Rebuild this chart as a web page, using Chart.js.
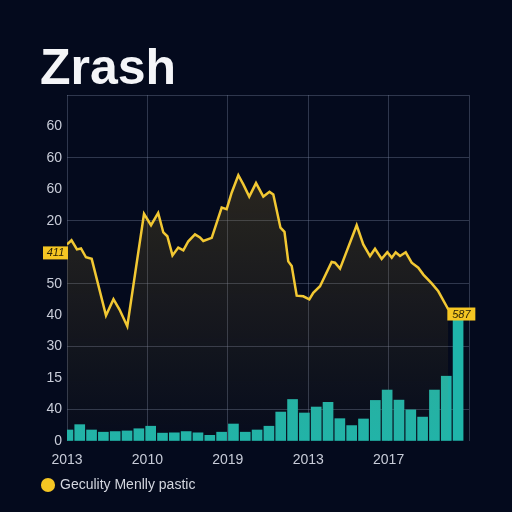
<!DOCTYPE html>
<html>
<head>
<meta charset="utf-8">
<script src="https://cdn.jsdelivr.net/npm/chart.js@4.4.1/dist/chart.umd.min.js"></script>
<style>
  html, body { margin: 0; padding: 0; background: #040a1d; }
  #wrap { width: 512px; height: 512px; }
</style>
</head>
<body>
<div id="wrap"><canvas id="zrashChart" width="512" height="512"></canvas></div>
<script>
// values
const xLabels = ['2013', '2010', '2019', '2013', '2017', ''];
const yLabels = ['0', '40', '15', '30', '40', '50', '', '20', '60', '60', '60', ''];

const barValues = [
  0.35, 0.52, 0.35, 0.28, 0.30, 0.32, 0.39, 0.47, 0.25, 0.26,
  0.30, 0.26, 0.18, 0.28, 0.54, 0.28, 0.35, 0.47, 0.92, 1.32,
  0.89, 1.08, 1.23, 0.71, 0.49, 0.70, 1.29, 1.62, 1.30, 0.99,
  0.76, 1.62, 2.06, 3.86
];

const lineX = [
  0, 0.056, 0.124, 0.174, 0.236, 0.307, 0.485, 0.578, 0.653, 0.75,
  0.958, 1.045, 1.134, 1.198, 1.248, 1.312, 1.384, 1.447, 1.509, 1.592,
  1.654, 1.695, 1.80, 1.924, 1.986, 2.049, 2.131, 2.193, 2.267, 2.351,
  2.442, 2.519, 2.566, 2.655, 2.705, 2.752, 2.795, 2.857, 2.939, 3.014,
  3.063, 3.147, 3.292, 3.333, 3.396, 3.603, 3.685, 3.769, 3.831, 3.914,
  3.984, 4.039, 4.088, 4.142, 4.213, 4.287, 4.369, 4.432, 4.536, 4.618,
  4.743
];
const lineY = [
  6.25, 6.38, 6.09, 6.12, 5.84, 5.79, 3.99, 4.51, 4.18, 3.65,
  7.22, 6.86, 7.25, 6.63, 6.51, 5.90, 6.15, 6.06, 6.35, 6.57,
  6.47, 6.36, 6.46, 7.42, 7.37, 7.90, 8.45, 8.16, 7.77, 8.20,
  7.77, 7.92, 7.84, 6.78, 6.65, 5.71, 5.56, 4.62, 4.60, 4.50,
  4.71, 4.92, 5.69, 5.67, 5.48, 6.86, 6.25, 5.88, 6.11, 5.79,
  6.00, 5.83, 6.00, 5.88, 6.00, 5.67, 5.51, 5.29, 5.01, 4.76,
  4.18
];

const tagLabels = ['411', '587'];
const legendLabel = 'Geculity Menlly pastic';

const gridColor = 'rgba(130, 140, 170, 0.35)';
const tickColor = '#c8ccd8';
const fontFamily = '"Liberation Sans", Arial, sans-serif';

// yellow value tags on the first and last point of the line
const tagPlugin = {
  id: 'tags',
  afterDatasetsDraw(chart) {
    const meta = chart.getDatasetMeta(1);
    const first = meta.data[0];
    const last = meta.data[meta.data.length - 1];
    const c = chart.ctx;
    c.save();
    c.font = 'italic 11px ' + fontFamily;
    c.textBaseline = 'middle';
    c.textAlign = 'center';
    const boxes = [
      { x: first.x - 24, y: first.y + 2, w: 25, h: 13, text: tagLabels[0] },
      { x: last.x - 1, y: last.y - 2, w: 28, h: 13, text: tagLabels[1] },
    ];
    boxes.forEach((b) => {
      c.fillStyle = '#f5c623';
      c.fillRect(b.x, b.y, b.w, b.h);
      c.fillStyle = '#2a2208';
      c.fillText(b.text, b.x + b.w / 2, b.y + b.h / 2 + 0.5);
    });
    c.restore();
  },
};

const ctx = document.getElementById('zrashChart').getContext('2d');

const zrashChart = new Chart(ctx, {
  type: 'bar',
  data: {
    labels: barValues.map((v, i) => String(i)),
    datasets: [
      {
        label: 'bars',
        data: barValues,
        backgroundColor: '#1fb4aa',
        borderWidth: 0,
        barThickness: 10,
        xAxisID: 'x',
        order: 2,
      },
      {
        type: 'line',
        label: legendLabel,
        data: lineX.map((x, i) => ({ x: x, y: lineY[i] })),
        xAxisID: 'x2',
        borderColor: '#f2c833',
        borderWidth: 2.5,
        tension: 0,
        pointRadius: 0,
        fill: 'start',
        backgroundColor: function (context) {
          const area = context.chart.chartArea;
          if (!area) return 'rgba(150, 120, 40, 0.15)';
          const g = context.chart.ctx.createLinearGradient(0, area.top, 0, area.bottom);
          g.addColorStop(0, 'rgba(160, 130, 40, 0.30)');
          g.addColorStop(1, 'rgba(160, 130, 40, 0.02)');
          return g;
        },
        order: 1,
      },
    ],
  },
  options: {
    responsive: false,
    animation: false,
    layout: { padding: { left: 40, right: 43, top: 0, bottom: 10 } },
    plugins: {
      title: {
        display: true,
        text: 'Zrash',
        align: 'start',
        color: '#f4f5f8',
        font: { family: fontFamily, size: 50, weight: 'bold', lineHeight: 1 },
        padding: { top: 45, bottom: 0 },
      },
      legend: {
        position: 'bottom',
        align: 'start',
        labels: {
          usePointStyle: true,
          boxWidth: 10,
          boxHeight: 10,
          padding: 3,
          color: '#d3d6df',
          font: { family: fontFamily, size: 14 },
          generateLabels: (chart) => [{
            text: legendLabel,
            fillStyle: '#f5c623',
            strokeStyle: '#f5c623',
            lineWidth: 0,
            pointStyle: 'circle',
            datasetIndex: 1,
            fontColor: '#d3d6df',
          }],
        },
      },
      tooltip: { enabled: false },
    },
    scales: {
      x: {
        display: false,
        offset: true,
      },
      x2: {
        type: 'linear',
        position: 'bottom',
        min: 0,
        max: 5,
        offset: false,
        afterFit: (scale) => { scale.height = 34; },
        ticks: {
          stepSize: 1,
          color: tickColor,
          padding: 11,
          font: { family: fontFamily, size: 14 },
          callback: (value, index) => xLabels[index],
        },
        grid: { color: gridColor, drawTicks: false, offset: false },
        border: { display: false },
      },
      y: {
        min: 0,
        max: 11,
        afterFit: (scale) => { scale.width = 27; },
        ticks: {
          stepSize: 1,
          color: tickColor,
          padding: 5,
          font: { family: fontFamily, size: 14 },
          callback: (value, index) => yLabels[index],
        },
        grid: {
          color: (c) => (c.index % 2 === 1 ? gridColor : 'transparent'),
          drawTicks: false,
        },
        border: { display: false },
      },
    },
  },
  plugins: [tagPlugin],
});
</script>
</body>
</html>
